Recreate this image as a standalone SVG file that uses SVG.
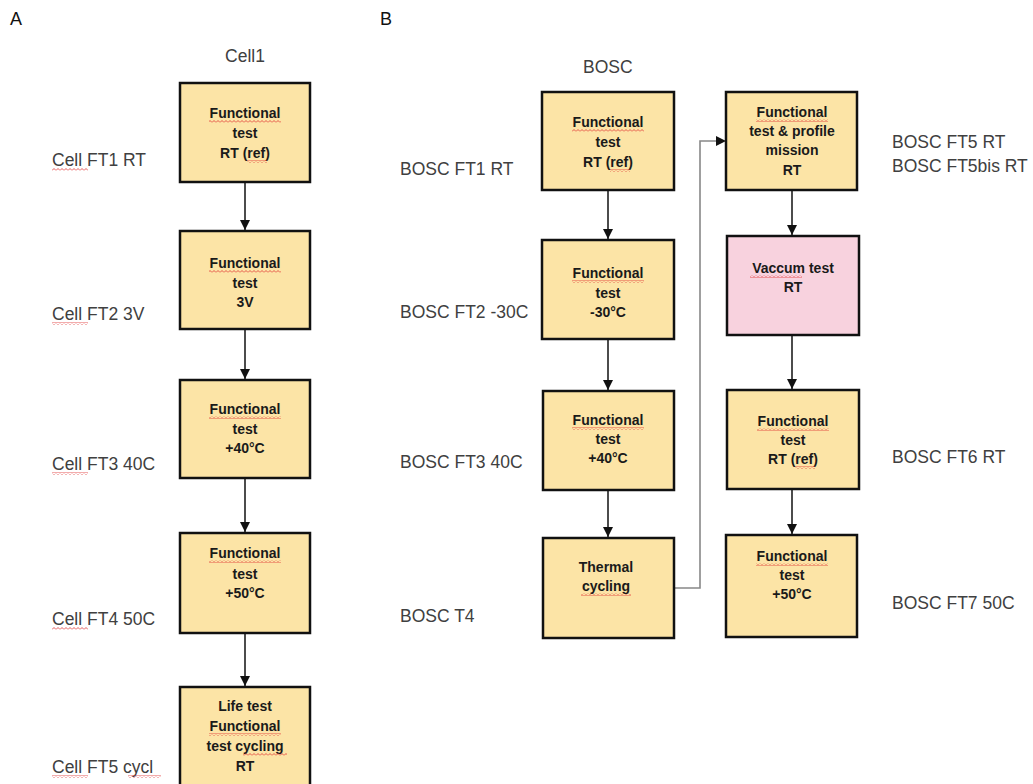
<svg xmlns="http://www.w3.org/2000/svg" width="1033" height="784" viewBox="0 0 1033 784">
<style>
.box{fill:#FCE4A6;stroke:#111;stroke-width:2.5}
.pink{fill:#F8D2DE;stroke:#111;stroke-width:2.5}
.bt{font-family:"Liberation Sans",Arial,sans-serif;font-weight:bold;font-size:14px;fill:#1a1a1a;text-anchor:middle}
.lb{font-family:"Liberation Sans",Arial,sans-serif;font-size:17.5px;fill:#404040}
.hd{font-family:"Liberation Sans",Arial,sans-serif;font-size:18px;fill:#111}
.ar{stroke:#111;stroke-width:1.5;fill:none;marker-end:url(#ah)}
.el{stroke:#888;stroke-width:1.6;fill:none}
.sq{fill:url(#squig)}
</style>
<defs>
<marker id="ah" viewBox="0 0 10 10" refX="10" refY="5" markerWidth="10" markerHeight="10" markerUnits="userSpaceOnUse" orient="auto">
<path d="M0,0 L10,5 L0,10 Z" fill="#111"/>
</marker>
<pattern id="squig" patternUnits="userSpaceOnUse" width="4" height="3">
<polyline points="0,2.5 2,0.5 4,2.5" fill="none" stroke="#E03030" stroke-width="0.8"/>
</pattern>
</defs>
<rect width="1033" height="784" fill="#fff"/>

<g id="headers">
<text class="hd" x="10" y="25">A</text>
<text class="hd" x="380" y="25">B</text>
<text class="lb" x="245" y="62" text-anchor="middle">Cell1</text>
<text class="lb" x="583" y="73">BOSC</text>
</g>

<g id="labels">
<text class="lb" x="52" y="166">Cell FT1 RT</text>
<text class="lb" x="52" y="320">Cell FT2 3V</text>
<text class="lb" x="52" y="470">Cell FT3 40C</text>
<text class="lb" x="52" y="625">Cell FT4 50C</text>
<text class="lb" x="52" y="773">Cell FT5 cycl</text>
<rect class="sq" x="52" y="168" width="36" height="3"/>
<rect class="sq" x="52" y="322" width="36" height="3"/>
<rect class="sq" x="52" y="472" width="36" height="3"/>
<rect class="sq" x="52" y="627" width="36" height="3"/>
<rect class="sq" x="52" y="775" width="36" height="3"/>
<rect class="sq" x="128" y="775" width="33" height="3"/>
<text class="lb" x="400" y="175">BOSC FT1 RT</text>
<text class="lb" x="400" y="318">BOSC FT2 -30C</text>
<text class="lb" x="400" y="468">BOSC FT3 40C</text>
<text class="lb" x="400" y="622">BOSC T4</text>
<text class="lb" x="892" y="148">BOSC FT5 RT</text>
<text class="lb" x="892" y="172">BOSC FT5bis RT</text>
<text class="lb" x="892" y="463">BOSC FT6 RT</text>
<text class="lb" x="892" y="609">BOSC FT7 50C</text>
</g>

<g id="connectors">
<line class="ar" x1="245" y1="183" x2="245" y2="230"/>
<line class="ar" x1="245" y1="330" x2="245" y2="379"/>
<line class="ar" x1="245" y1="479" x2="245" y2="532"/>
<line class="ar" x1="245" y1="634" x2="245" y2="686"/>
<line class="ar" x1="608" y1="191" x2="608" y2="239"/>
<line class="ar" x1="608" y1="340" x2="608" y2="390"/>
<line class="ar" x1="608" y1="491" x2="608" y2="537"/>
<line class="ar" x1="792" y1="191" x2="792" y2="235"/>
<line class="ar" x1="792" y1="336" x2="792" y2="389"/>
<line class="ar" x1="792" y1="490" x2="792" y2="534"/>
<polyline class="el" points="675,588 700,588 700,141 716,141"/>
<path d="M716,136 L726,141 L716,146 Z" fill="#111"/>
</g>

<g id="cell-ft1">
<rect class="box" x="180" y="83" width="130" height="99"/>
<text class="bt" x="245" y="118">Functional</text>
<text class="bt" x="245" y="138">test</text>
<text class="bt" x="245" y="158">RT (ref)</text>
<rect class="sq" x="209" y="120" width="72" height="3"/>
<rect class="sq" x="247" y="160" width="20" height="3"/>
</g>
<g id="cell-ft2">
<rect class="box" x="180" y="231" width="130" height="98"/>
<text class="bt" x="245" y="268">Functional</text>
<text class="bt" x="245" y="288">test</text>
<text class="bt" x="245" y="307">3V</text>
<rect class="sq" x="209" y="270" width="72" height="3"/>
</g>
<g id="cell-ft3">
<rect class="box" x="180" y="380" width="130" height="98"/>
<text class="bt" x="245" y="414">Functional</text>
<text class="bt" x="245" y="434">test</text>
<text class="bt" x="245" y="453">+40°C</text>
<rect class="sq" x="209" y="416" width="72" height="3"/>
</g>
<g id="cell-ft4">
<rect class="box" x="180" y="533" width="130" height="100"/>
<text class="bt" x="245" y="558">Functional</text>
<text class="bt" x="245" y="579">test</text>
<text class="bt" x="245" y="598">+50°C</text>
<rect class="sq" x="209" y="560" width="72" height="3"/>
</g>
<g id="cell-ft5">
<rect class="box" x="180" y="687" width="130" height="102"/>
<text class="bt" x="245" y="711">Life test</text>
<text class="bt" x="245" y="731">Functional</text>
<text class="bt" x="245" y="751">test cycling</text>
<text class="bt" x="245" y="771">RT</text>
<rect class="sq" x="209" y="733" width="72" height="3"/>
<rect class="sq" x="243" y="753" width="44" height="3"/>
</g>

<g id="bosc-ft1">
<rect class="box" x="542" y="92" width="132" height="98"/>
<text class="bt" x="608" y="127">Functional</text>
<text class="bt" x="608" y="147">test</text>
<text class="bt" x="608" y="167">RT (ref)</text>
<rect class="sq" x="572" y="129" width="72" height="3"/>
<rect class="sq" x="610" y="169" width="20" height="3"/>
</g>
<g id="bosc-ft2">
<rect class="box" x="542" y="240" width="132" height="99"/>
<text class="bt" x="608" y="278">Functional</text>
<text class="bt" x="608" y="298">test</text>
<text class="bt" x="608" y="317">-30°C</text>
<rect class="sq" x="572" y="280" width="72" height="3"/>
</g>
<g id="bosc-ft3">
<rect class="box" x="543" y="391" width="131" height="99"/>
<text class="bt" x="608" y="425">Functional</text>
<text class="bt" x="608" y="444">test</text>
<text class="bt" x="608" y="463">+40°C</text>
<rect class="sq" x="572" y="427" width="72" height="3"/>
</g>
<g id="bosc-t4">
<rect class="box" x="543" y="538" width="131" height="100"/>
<text class="bt" x="606" y="572">Thermal</text>
<text class="bt" x="606" y="591">cycling</text>
<rect class="sq" x="581" y="593" width="50" height="3"/>
</g>
<g id="bosc-ft5">
<rect class="box" x="726" y="92" width="131" height="98"/>
<text class="bt" x="792" y="117">Functional</text>
<text class="bt" x="792" y="136">test &amp; profile</text>
<text class="bt" x="792" y="155">mission</text>
<text class="bt" x="792" y="175">RT</text>
<rect class="sq" x="756" y="119" width="72" height="3"/>
</g>
<g id="bosc-vac">
<rect class="pink" x="727" y="236" width="132" height="99"/>
<text class="bt" x="793" y="273">Vaccum test</text>
<text class="bt" x="793" y="292">RT</text>
<rect class="sq" x="750" y="275" width="52" height="3"/>
</g>
<g id="bosc-ft6">
<rect class="box" x="727" y="390" width="132" height="99"/>
<text class="bt" x="793" y="426">Functional</text>
<text class="bt" x="793" y="445">test</text>
<text class="bt" x="793" y="464">RT (ref)</text>
<rect class="sq" x="757" y="428" width="72" height="3"/>
<rect class="sq" x="795" y="466" width="20" height="3"/>
</g>
<g id="bosc-ft7">
<rect class="box" x="726" y="535" width="131" height="102"/>
<text class="bt" x="792" y="561">Functional</text>
<text class="bt" x="792" y="580">test</text>
<text class="bt" x="792" y="599">+50°C</text>
<rect class="sq" x="756" y="563" width="72" height="3"/>
</g>
</svg>
